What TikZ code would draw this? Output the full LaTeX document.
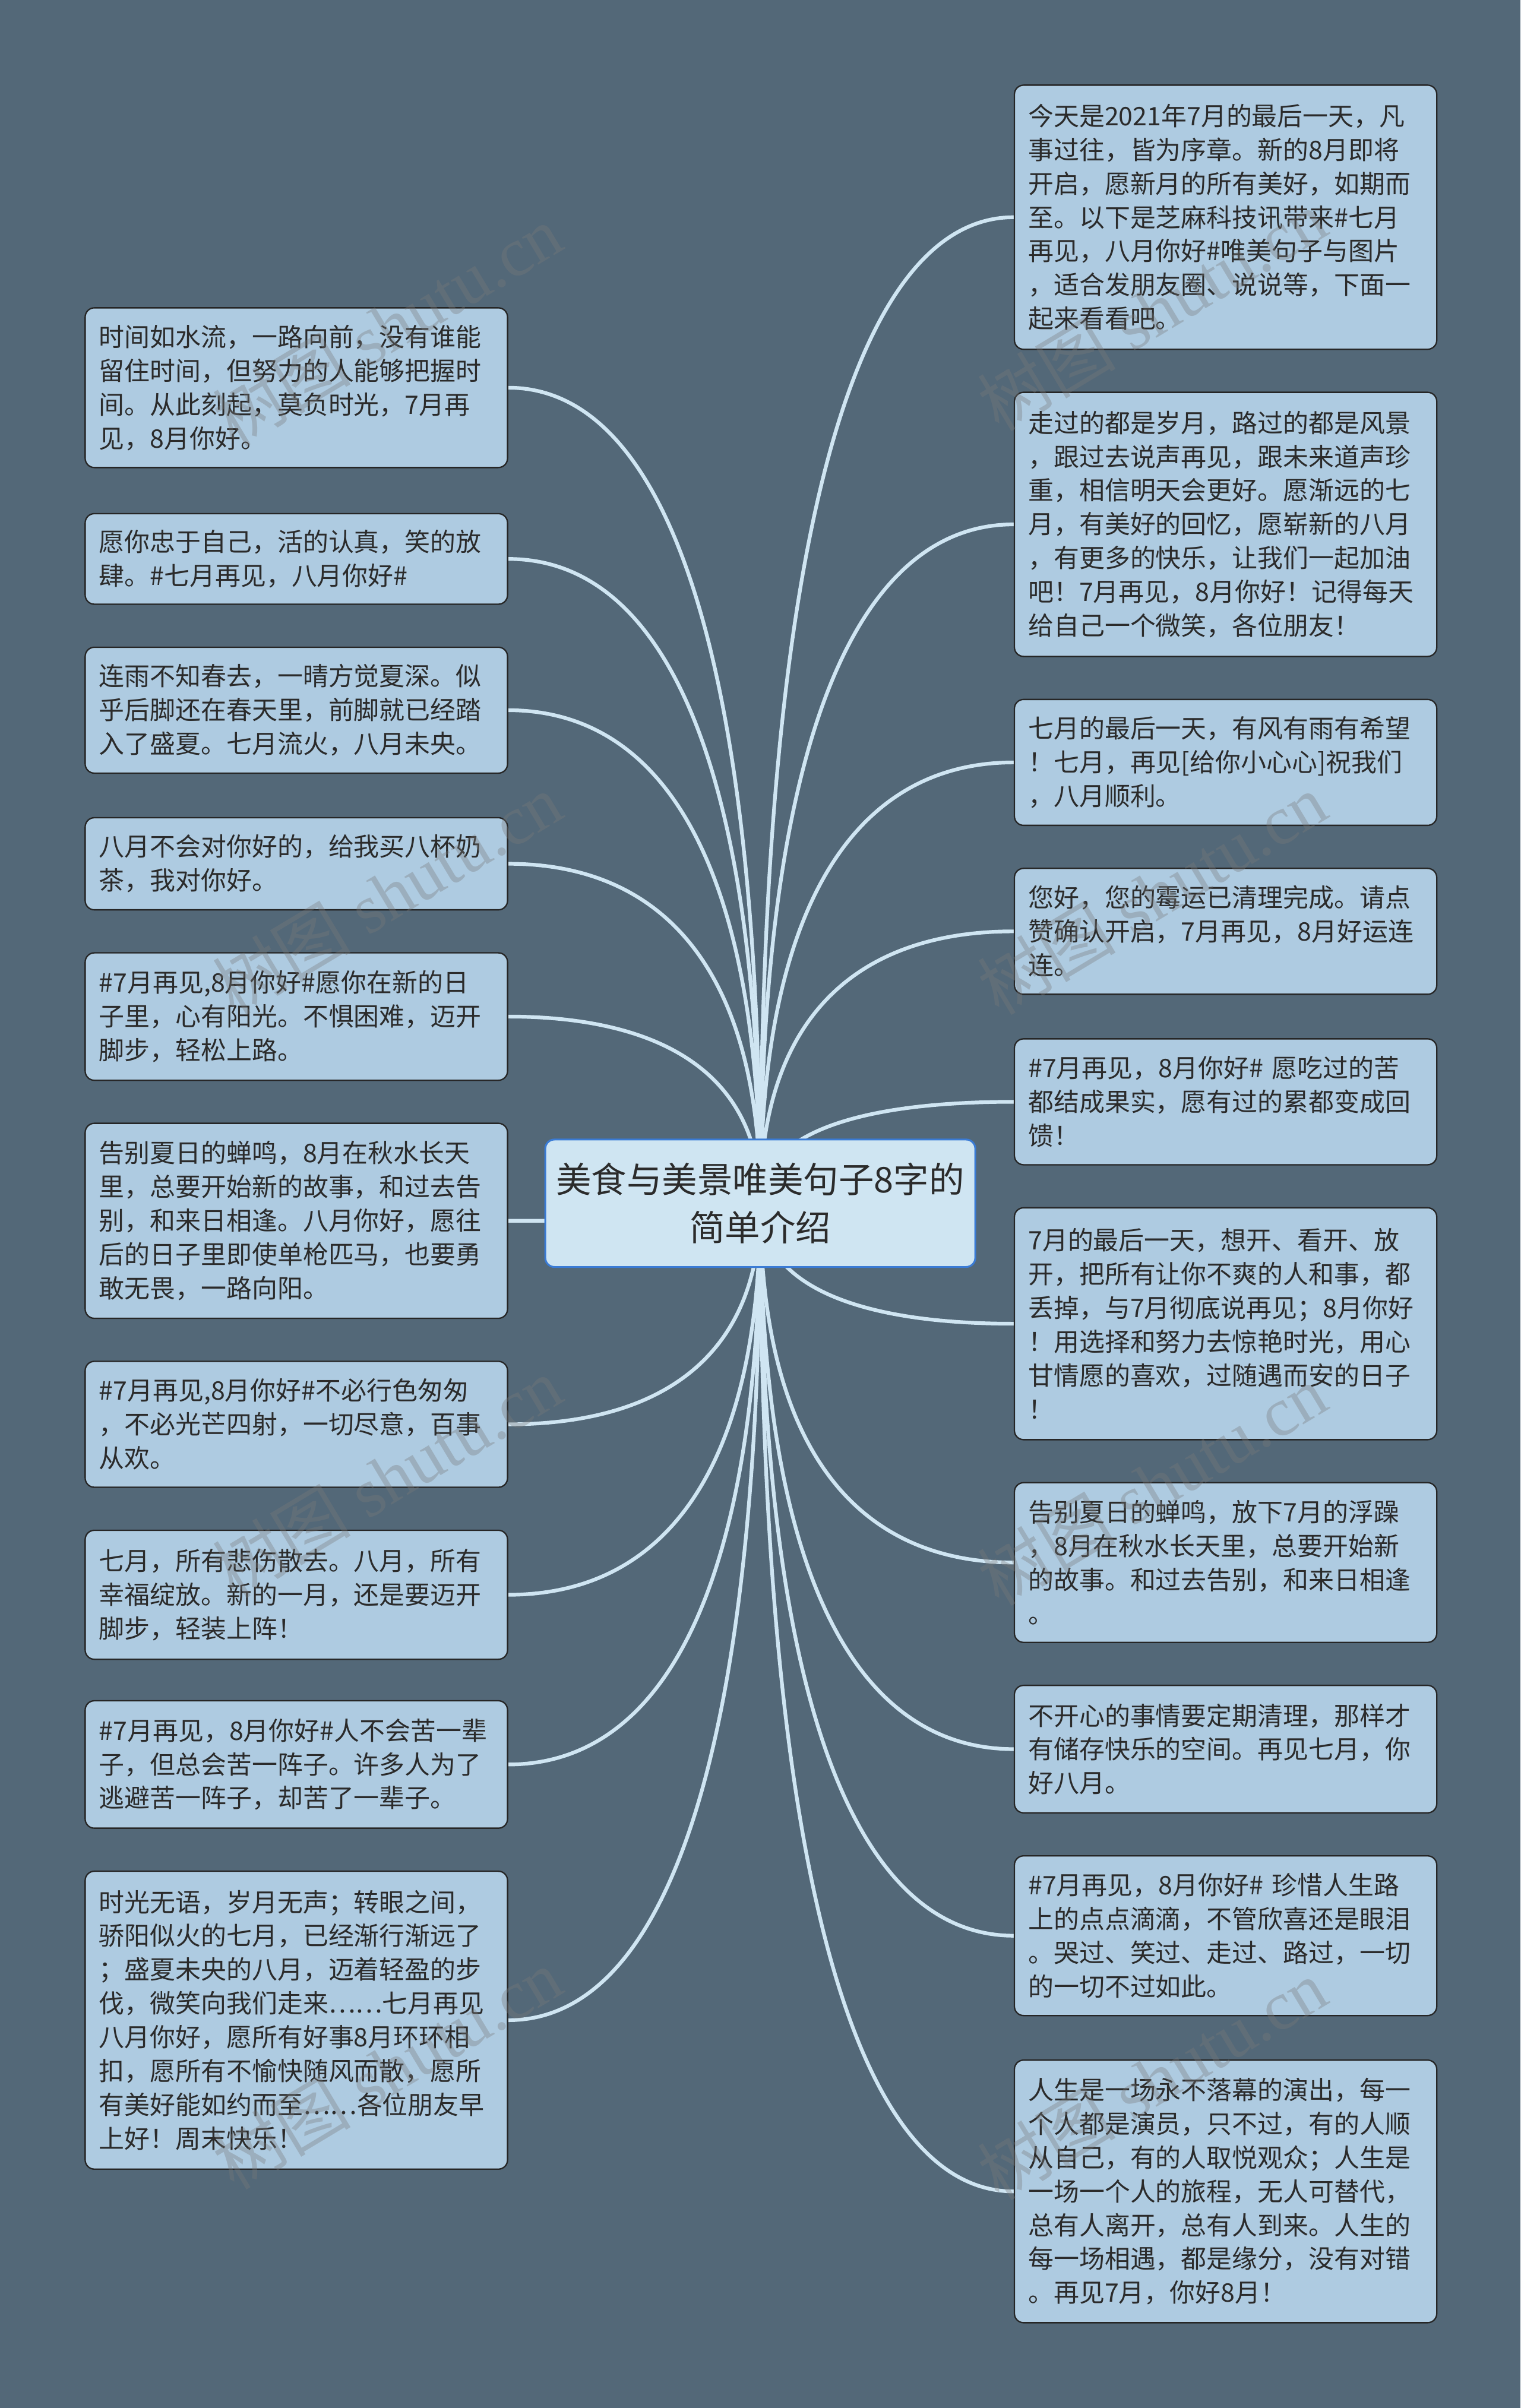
\documentclass[tikz,border=0pt]{standalone}
\usepackage{fontspec}
\setmainfont{Liberation Serif}
\newfontfamily\cjk{Noto Sans CJK SC}
\usetikzlibrary{calc}
\definecolor{bgc}{HTML}{536878}
\definecolor{boxc}{HTML}{AECBE1}
\definecolor{rootc}{HTML}{CFE5F2}
\definecolor{rootb}{HTML}{3A7BD5}
\definecolor{linec}{HTML}{CFE5F2}
\definecolor{txt}{HTML}{2B2B2B}
\definecolor{wmc}{HTML}{7A7A7A}
\pgfdeclarelayer{bg}
\pgfsetlayers{bg,main}
\newcommand\linkto[1]{\draw[conn] (root.center) .. controls ($(root.center)!0.7!(root.center|-#1)$) and ($(#1)!0.6!(root.center|-#1)$) .. (#1);}
\begin{document}
\begin{tikzpicture}[x=1pt,y=-1pt,
  leaf/.style={draw=black!85, line width=0.9pt, fill=boxc, rounded corners=6pt, anchor=north west,
    text width=257pt, inner xsep=9pt, inner ysep=0pt, align=left,
    font=\cjk\fontsize{16.6}{22}\selectfont, text=txt},
  rootnode/.style={draw=rootb, line width=1.2pt, fill=rootc, rounded corners=6pt,
    minimum width=280pt, minimum height=83pt, inner sep=0pt, align=center,
    font=\cjk\fontsize{23}{31}\selectfont, text=txt},
  conn/.style={draw=linec, line width=2.4pt},
  wm/.style={rotate=31, text=wmc, opacity=0.35, font=\fontsize{45}{45}\selectfont, inner sep=0pt}]
\useasboundingbox (0,0) rectangle (990,1568);

\node[rootnode] (root) at (495,783.5) {美食与美景唯美句子8字的\\简单介绍};

% left column
\node[leaf, minimum height=104pt] (l1) at (55,200) {时间如水流，一路向前，没有谁能\\留住时间，但努力的人能够把握时\\间。从此刻起，莫负时光，7月再\\见，8月你好。};
\node[leaf, minimum height=59pt] (l2) at (55,334) {愿你忠于自己，活的认真，笑的放\\肆。\#七月再见，八月你好\#};
\node[leaf, minimum height=82pt] (l3) at (55,421) {连雨不知春去，一晴方觉夏深。似\\乎后脚还在春天里，前脚就已经踏\\入了盛夏。七月流火，八月未央。};
\node[leaf, minimum height=60pt] (l4) at (55,532) {八月不会对你好的，给我买八杯奶\\茶，我对你好。};
\node[leaf, minimum height=83pt] (l5) at (55,620) {\#7月再见,8月你好\#愿你在新的日\\子里，心有阳光。不惧困难，迈开\\脚步，轻松上路。};
\node[leaf, minimum height=127pt] (l6) at (55,731) {告别夏日的蝉鸣，8月在秋水长天\\里，总要开始新的故事，和过去告\\别，和来日相逢。八月你好，愿往\\后的日子里即使单枪匹马，也要勇\\敢无畏，一路向阳。};
\node[leaf, minimum height=82pt] (l7) at (55,886) {\#7月再见,8月你好\#不必行色匆匆\\，不必光芒四射，一切尽意，百事\\从欢。};
\node[leaf, minimum height=84pt] (l8) at (55,996) {七月，所有悲伤散去。八月，所有\\幸福绽放。新的一月，还是要迈开\\脚步，轻装上阵！};
\node[leaf, minimum height=83pt] (l9) at (55,1107) {\#7月再见，8月你好\#人不会苦一辈\\子，但总会苦一阵子。许多人为了\\逃避苦一阵子，却苦了一辈子。};
\node[leaf, minimum height=194pt] (l10) at (55,1218) {时光无语，岁月无声；转眼之间，\\骄阳似火的七月，已经渐行渐远了\\；盛夏未央的八月，迈着轻盈的步\\伐，微笑向我们走来……七月再见\\八月你好，愿所有好事8月环环相\\扣，愿所有不愉快随风而散，愿所\\有美好能如约而至……各位朋友早\\上好！周末快乐！};

% right column
\node[leaf, minimum height=172pt] (r1) at (660,55) {今天是2021年7月的最后一天，凡\\事过往，皆为序章。新的8月即将\\开启，愿新月的所有美好，如期而\\至。以下是芝麻科技讯带来\#七月\\再见，八月你好\#唯美句子与图片\\，适合发朋友圈、说说等，下面一\\起来看看吧。};
\node[leaf, minimum height=172pt] (r2) at (660,255) {走过的都是岁月，路过的都是风景\\，跟过去说声再见，跟未来道声珍\\重，相信明天会更好。愿渐远的七\\月，有美好的回忆，愿崭新的八月\\，有更多的快乐，让我们一起加油\\吧！7月再见，8月你好！记得每天\\给自己一个微笑，各位朋友！};
\node[leaf, minimum height=82pt] (r3) at (660,455) {七月的最后一天，有风有雨有希望\\！七月，再见[给你小心心]祝我们\\，八月顺利。};
\node[leaf, minimum height=82pt] (r4) at (660,565) {您好，您的霉运已清理完成。请点\\赞确认开启，7月再见，8月好运连\\连。};
\node[leaf, minimum height=82pt] (r5) at (660,676) {\#7月再见，8月你好\# 愿吃过的苦\\都结成果实，愿有过的累都变成回\\馈！};
\node[leaf, minimum height=151pt] (r6) at (660,786) {7月的最后一天，想开、看开、放\\开，把所有让你不爽的人和事，都\\丢掉，与7月彻底说再见；8月你好\\！用选择和努力去惊艳时光，用心\\甘情愿的喜欢，过随遇而安的日子\\！};
\node[leaf, minimum height=104pt] (r7) at (660,965) {告别夏日的蝉鸣，放下7月的浮躁\\，8月在秋水长天里，总要开始新\\的故事。和过去告别，和来日相逢\\。};
\node[leaf, minimum height=83pt] (r8) at (660,1097) {不开心的事情要定期清理，那样才\\有储存快乐的空间。再见七月，你\\好八月。};
\node[leaf, minimum height=104pt] (r9) at (660,1208) {\#7月再见，8月你好\# 珍惜人生路\\上的点点滴滴，不管欣喜还是眼泪\\。哭过、笑过、走过、路过，一切\\的一切不过如此。};
\node[leaf, minimum height=171pt] (r10) at (660,1341) {人生是一场永不落幕的演出，每一\\个人都是演员，只不过，有的人顺\\从自己，有的人取悦观众；人生是\\一场一个人的旅程，无人可替代，\\总有人离开，总有人到来。人生的\\每一场相遇，都是缘分，没有对错\\。再见7月，你好8月！};

\begin{pgfonlayer}{bg}
\fill[bgc] (0,0) rectangle (990,1568);
\foreach \n in {l1,l2,l3,l4,l5,l6,l7,l8,l9,l10} {\linkto{\n.east}}
\foreach \n in {r1,r2,r3,r4,r5,r6,r7,r8,r9,r10} {\linkto{\n.west}}
\end{pgfonlayer}

% watermarks
\node[wm] (w1) at (252,212) {{\cjk 树图} shutu.cn};
\node[wm] (w2) at (252,582) {{\cjk 树图} shutu.cn};
\node[wm] (w3) at (252,962) {{\cjk 树图} shutu.cn};
\node[wm] (w4) at (252,1347) {{\cjk 树图} shutu.cn};
\node[wm] (w5) at (750,202) {{\cjk 树图} shutu.cn};
\node[wm] (w6) at (750,582) {{\cjk 树图} shutu.cn};
\node[wm] (w7) at (750,967) {{\cjk 树图} shutu.cn};
\node[wm] (w8) at (750,1354) {{\cjk 树图} shutu.cn};
\end{tikzpicture}
\end{document}
